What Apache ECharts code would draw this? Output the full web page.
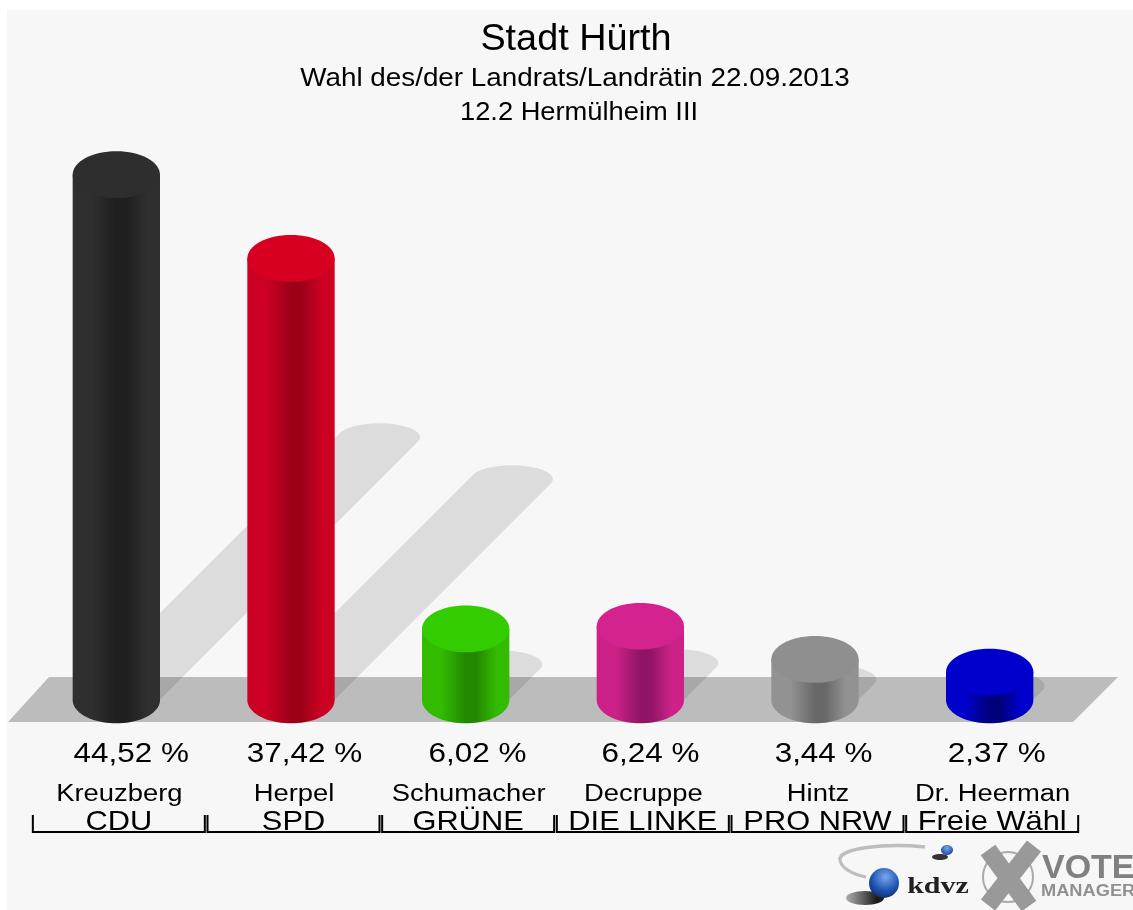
<!DOCTYPE html>
<html><head><meta charset="utf-8">
<style>html,body{margin:0;padding:0;background:#fff}#main{width:1133px;height:910px}#main canvas{filter:blur(0.6px)}</style>
<script src="https://cdn.jsdelivr.net/npm/echarts@6/dist/echarts.min.js"></script>
</head><body><div id="main"></div>
<script>
const parties = ['CDU','SPD','GRÜNE','DIE LINKE','PRO NRW','Freie Wähl'];
const candidates = ['Kreuzberg','Herpel','Schumacher','Decruppe','Hintz','Dr. Heerman'];
const shares = [44.52,37.42,6.02,6.24,3.44,2.37];
const topColors = ['#2e2e2e','#d80020','#33cc00','#d4228f','#8f8f8f','#0000cc'];
const edgeColors = ['#2f2f2f','#cc0022','#33bb00','#cc2288','#929292','#0000cc'];
const coreColors = ['#1f1f1f','#9c0018','#228800','#8f1466','#686868','#00007c'];

const FONT = '"Liberation Sans", Arial, sans-serif';
const chart = echarts.init(document.getElementById('main'), null, {renderer:'canvas'});
const LG = echarts.graphic.LinearGradient, RG = echarts.graphic.RadialGradient;

function ellipsePts(cx, cy, rx, ry, a0, a1, n) {
  const out = [];
  for (let k = 0; k <= n; k++) {
    const t = a0 + (a1 - a0) * k / n;
    out.push([cx + rx * Math.cos(t), cy + ry * Math.sin(t)]);
  }
  return out;
}

function renderCylinder(params, api) {
  const i = api.value(0), v = api.value(1);
  const base = api.coord([i, 0]), top = api.coord([i, v]);
  const rx = api.size([1, 0])[0] * 0.25, ry = rx * 0.535;
  const cx = base[0];
  const dx = v * 5.9, dy = v * 5.9;
  const sRx = 41, sRy = 14;
  const tan = Math.atan2(dx * sRy, dy * sRx);
  const shadow = ellipsePts(cx + dx, base[1] - dy, sRx, sRy, tan - Math.PI, tan, 24)
    .concat(ellipsePts(cx, base[1], sRx, sRy, tan, tan + Math.PI, 24));
  const body = [[cx - rx, top[1]], [cx + rx, top[1]]]
    .concat(ellipsePts(cx, base[1], rx, ry, 0, Math.PI, 40));
  return {
    type: 'group', children: [
      {type:'polygon', shape:{points:shadow}, style:{fill:'rgba(0,0,0,0.105)'}},
      {type:'polygon', shape:{points:body}, style:{fill:new LG(0,0,1,0,[
        {offset:0,color:edgeColors[i]},{offset:0.22,color:edgeColors[i]},
        {offset:0.5,color:coreColors[i]},{offset:0.62,color:coreColors[i]},
        {offset:0.85,color:edgeColors[i]},{offset:1,color:edgeColors[i]}])}},
      {type:'ellipse', shape:{cx:cx, cy:top[1], rx:rx, ry:ry}, style:{fill:topColors[i]}}
    ]
  };
}

function stretched(x, y, text, font, sx) {
  return {type:'text', x:x, y:y, scaleX:sx, style:{x:0, y:0, text:text, fill:'#000', font:font, align:'center', verticalAlign:'middle'}};
}

function renderCaption(params, api) {
  const i = api.value(0), v = api.value(1);
  const cx = api.coord([i, 0])[0];
  const pct = v.toFixed(2).replace('.', ',') + ' %';
  const L = cx - 83.5, R = cx + 88.5;
  return {
    type:'group', children:[
      stretched(cx + 15 - 1.6 * i, 755, pct, '27px ' + FONT, 1.165),
      stretched(cx + 3, 795, candidates[i], '23px ' + FONT, 1.19),
      stretched(cx + 2.5, 822, parties[i], '28px ' + FONT, 1.1),
      {type:'polyline', shape:{points:[[L,815],[L,832],[R,832],[R,815]]}, style:{fill:'none', stroke:'#000', lineWidth:2}}
    ]
  };
}

const titleText = (x, y, text, size, sx) => ({type:'text', x:x, y:y, scaleX:sx,
  style:{x:0, y:0, text:text, font:size + 'px ' + FONT, fill:'#000', align:'center', verticalAlign:'middle'}});

const option = {
  animation:false,
  backgroundColor:'#ffffff',
  grid:{left:29, width:1048, top:169, height:531},
  xAxis:{type:'category', data:parties, axisLine:{show:false}, axisTick:{show:false}, axisLabel:{show:false}},
  yAxis:{type:'value', min:0, max:45, show:false},
  graphic:[
    {type:'rect', z:-10, shape:{x:7,y:10,width:1126,height:900}, style:{fill:'#f7f7f7'}},
    {type:'polygon', z:-9, shape:{points:[[8,722],[49,677],[1118,677],[1073,722]]}, style:{fill:'#bcbcbc'}},
    titleText(576, 40, 'Stadt Hürth', 36, 1.05),
    titleText(575, 79, 'Wahl des/der Landrats/Landrätin 22.09.2013', 26, 1.07),
    titleText(579, 113, '12.2 Hermülheim III', 25.5, 1.07),
    // kdvz logo
    {type:'bezierCurve', shape:{x1:925,y1:847,x2:840,y2:860,cpx1:885,cpy1:843,cpx2:838,cpy2:848}, style:{fill:'none', stroke:'#bdbdbd', lineWidth:3.5}},
    {type:'bezierCurve', shape:{x1:840,y1:860,x2:866,y2:877,cpx1:841,cpy1:868,cpx2:852,cpy2:874}, style:{fill:'none', stroke:'#bdbdbd', lineWidth:3}},
    {type:'ellipse', x:865, y:898, shape:{cx:0,cy:0,rx:19,ry:7}, style:{fill:new LG(0,0,1,0,[{offset:0,color:'rgba(40,40,40,0.35)'},{offset:0.8,color:'#1c1c1c'}])}},
    {type:'circle', shape:{cx:884,cy:883,r:15}, style:{fill:new RG(0.55,0.3,0.75,[{offset:0,color:'#7aa8ea'},{offset:0.6,color:'#1f55b5'},{offset:1,color:'#0b2a66'}])}},
    {type:'ellipse', x:940, y:857, shape:{cx:0,cy:0,rx:8,ry:3}, style:{fill:'#333'}},
    {type:'ellipse', x:947, y:850, shape:{cx:0,cy:0,rx:6,ry:5}, style:{fill:new RG(0.5,0.3,0.7,[{offset:0,color:'#7aa8ea'},{offset:1,color:'#1a4aa5'}])}},
    {type:'text', x:938, y:887, scaleX:1.25, style:{x:0,y:0,text:'kdvz',font:'bold 24px "Liberation Serif", serif',fill:'#222',align:'center',verticalAlign:'middle'}},
    // vote manager logo
    {type:'circle', shape:{cx:1008,cy:877,r:25}, style:{fill:'none',stroke:'#aaa',lineWidth:2}},
    {type:'line', shape:{x1:988,y1:850,x2:1029,y2:906}, style:{stroke:'#999',lineWidth:18}},
    {type:'line', shape:{x1:1034,y1:846,x2:988,y2:905}, style:{stroke:'#999',lineWidth:18}},
    {type:'text', x:1042, y:869, scaleX:1.03, style:{x:0,y:0,text:'VOTE',font:'bold 33px '+FONT,fill:'#808080',verticalAlign:'middle'}},
    {type:'text', x:1041, y:892, scaleX:1.14, style:{x:0,y:0,text:'MANAGER',font:'bold 16px '+FONT,fill:'#909090',verticalAlign:'middle'}}
  ],
  series:[
    {type:'custom', coordinateSystem:'cartesian2d', renderItem:renderCylinder, data:shares.map((v,i)=>[i,v]), encode:{x:0,y:1}, silent:true, clip:false},
    {type:'custom', coordinateSystem:'cartesian2d', renderItem:renderCaption, data:shares.map((v,i)=>[i,v]), encode:{x:0,y:1}, silent:true, clip:false}
  ]
};
chart.setOption(option);
</script></body></html>
